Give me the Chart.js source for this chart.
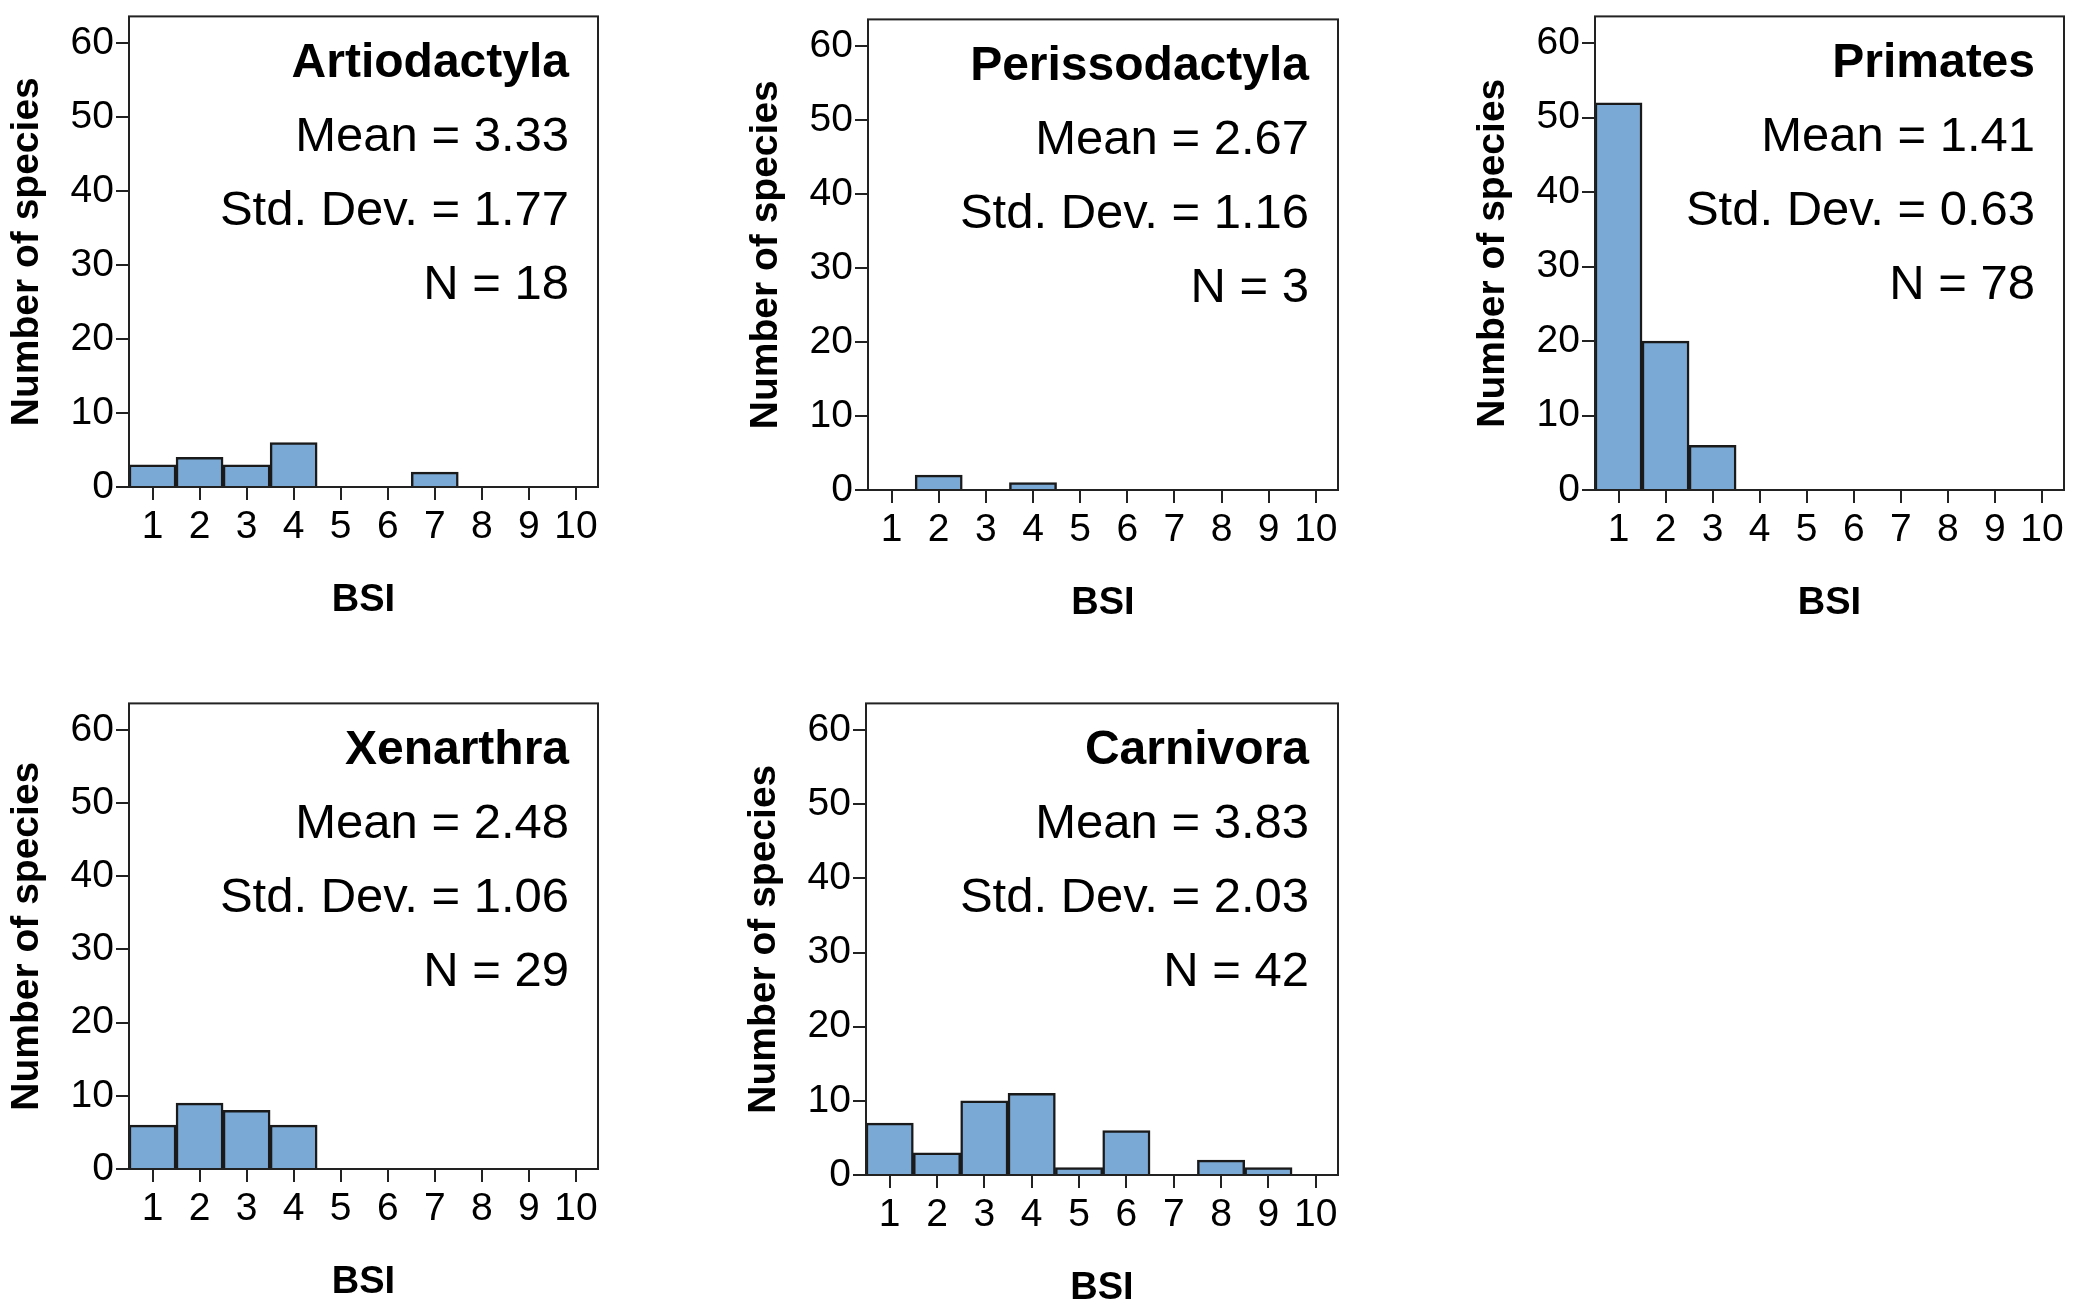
<!DOCTYPE html>
<html><head><meta charset="utf-8">
<script src="https://cdn.jsdelivr.net/npm/chart.js@4"></script>
<style>body{margin:0;background:#fff;width:2079px;height:1300px;position:relative;overflow:hidden}
.p{position:absolute}</style></head><body>
<script>
const bsi = [1,2,3,4,5,6,7,8,9,10];
const yTicks = [0,10,20,30,40,50,60];
const titles = ["Artiodactyla","Perissodactyla","Primates","Xenarthra","Carnivora"];
const means = ["3.33","2.67","1.41","2.48","3.83"];
const stds = ["1.77","1.16","0.63","1.06","2.03"];
const ns = ["18","3","78","29","42"];
const artiodactyla = [3,4,3,6,0,0,2,0,0,0];
const perissodactyla = [0,2,0,1,0,0,0,0,0,0];
const primates = [52,20,6,0,0,0,0,0,0,0];
const xenarthra = [6,9,8,6,0,0,0,0,0,0];
const carnivora = [7,3,10,11,1,6,0,2,1,0];
const seriesList = [artiodactyla,perissodactyla,primates,xenarthra,carnivora];
// plot area boxes [left, top, right, bottom]
const boxes = [[129,13,598,485],[868,16,1338,488],[1595,13,2064,488],[129,700,598,1167],[866,700,1338,1173]];
const YW = 129, XH = 140;
const F = 'Arial, "Liberation Sans", sans-serif';

const framePlugin = {
  id:'frame',
  afterDatasetsDraw(chart, args, opts){
    const {ctx, chartArea:a} = chart;
    ctx.save();
    ctx.strokeStyle='#222'; ctx.lineWidth=2;
    ctx.strokeRect(a.left, a.top, a.right-a.left, a.bottom-a.top);
    ctx.fillStyle='#000'; ctx.textAlign='right'; ctx.textBaseline='alphabetic';
    const x = a.right - 29, s = 74;
    ctx.font = 'bold 48px '+F; ctx.fillText(opts.title, x, a.top+61);
    ctx.font = '49px '+F;
    ctx.fillText('Mean = '+opts.mean, x, a.top+61+s);
    ctx.fillText('Std. Dev. = '+opts.std, x, a.top+61+2*s);
    ctx.fillText('N = '+opts.n, x, a.top+61+3*s);
    ctx.restore();
  }
};

boxes.forEach((b,i)=>{
  const [l,t,r,bt] = b;
  const w = YW + (r-l) + 12, h = (bt-t) + XH + 24;
  const c = document.createElement('canvas');
  c.className='p';
  c.style.left=(l-YW)+'px'; c.style.top=(t-22)+'px';
  c.style.width=w+'px'; c.style.height=h+'px';
  document.body.appendChild(c);
  const data = seriesList[i];
  new Chart(c, {
    type:'bar',
    data:{datasets:[{data:bsi.map((x,k)=>({x:x,y:data[k]})),
      backgroundColor:'#7aa9d5', borderColor:'#1a1a1a', borderWidth:2.5,
      barPercentage:1, categoryPercentage:1, borderSkipped:'bottom'}]},
    options:{
      responsive:false, animation:false, devicePixelRatio:1,
      layout:{padding:{top:2,right:12,left:0,bottom:0}},
      plugins:{legend:{display:false},tooltip:{enabled:false},
        frame:{title:titles[i],mean:means[i],std:stds[i],n:ns[i]}},
      scales:{
        x:{type:'linear', min:0.5, max:10.47, offset:false,
          afterBuildTicks(ax){ax.ticks = bsi.map(v=>({value:v}));},
          afterFit(ax){ax.height = XH;},
          grid:{display:true, offset:false, drawOnChartArea:false, drawTicks:true, tickLength:13, color:'#222', lineWidth:2},
          border:{display:false},
          ticks:{color:'#000', font:{size:39, family:F}, padding:4, maxRotation:0, autoSkip:false},
          title:{display:true, text:'BSI', color:'#000', font:{size:38, weight:'bold', family:F}, padding:{top:4}}},
        y:{min:0, max:63.6,
          afterBuildTicks(ax){ax.ticks = yTicks.map(v=>({value:v}));},
          afterFit(ax){ax.width = YW;},
          grid:{display:true, offset:false, drawOnChartArea:false, drawTicks:true, tickLength:13, color:'#222', lineWidth:2},
          border:{display:false},
          ticks:{color:'#000', font:{size:39, family:F}, padding:2},
          title:{display:true, text:'Number of species', color:'#000', font:{size:39, weight:'bold', family:F}, padding:{bottom:0}}}
      }
    },
    plugins:[framePlugin]
  });
});
</script></body></html>
